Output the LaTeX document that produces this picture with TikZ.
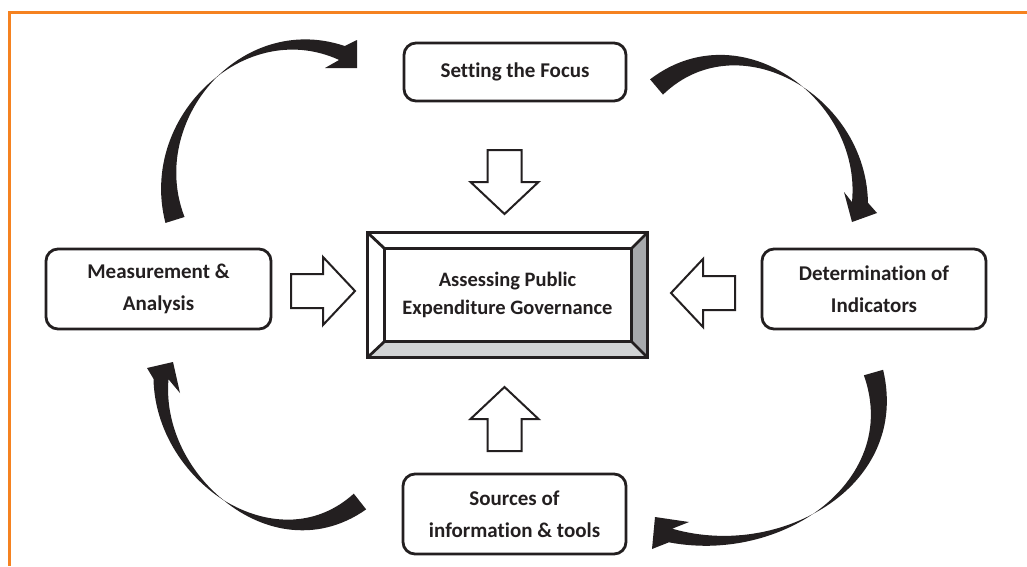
\documentclass[tikz,border=0pt]{standalone}
\usepackage{fontspec}
\setmainfont{Carlito}[Ligatures=NoCommon]
\usetikzlibrary{calc}
\definecolor{ink}{HTML}{231F20}
\definecolor{frameorange}{HTML}{F58220}
\definecolor{bevelgray}{HTML}{A7A9AC}
\definecolor{bevellight}{HTML}{D1D3D4}

\begin{document}
\begin{tikzpicture}[x=1pt,y=-1pt,
  stage/.style={draw=ink, line width=2.8pt, rounded corners=12pt, fill=white,
    text=ink, font=\bfseries\fontsize{21}{32}\selectfont, align=center, inner sep=0pt},
  hub/.style={text=ink, font=\bfseries\fontsize{20.5}{28}\selectfont, align=center,
    inner sep=0pt, minimum width=279pt, minimum height=124pt},
  hollow/.style={draw=ink, line width=2pt, fill=white, line join=miter},
  ribbon/.style={fill=ink},
  bevel/.style={draw=ink, line width=2.8pt, line join=miter},
  % twisted ribbon: centre line is a cubic Bezier, offset on each side by a
  % half-width that shrinks to zero at the twist and grows again to the head
  ribbonfns/.style={declare function={
    bz(\x,\ka,\kb,\kc,\kd)=(1-\x)*(1-\x)*(1-\x)*\ka+3*(1-\x)*(1-\x)*\x*\kb+3*(1-\x)*\x*\x*\kc+\x*\x*\x*\kd;
    dbz(\x,\ka,\kb,\kc,\kd)=3*(1-\x)*(1-\x)*(\kb-\ka)+6*(1-\x)*\x*(\kc-\kb)+3*\x*\x*(\kd-\kc);
    cx(\x)=bz(\x,\Ax,\Bx,\Cx,\Dx);
    cy(\x)=bz(\x,\Ay,\By,\Cy,\Dy);
    tx(\x)=dbz(\x,\Ax,\Bx,\Cx,\Dx);
    ty(\x)=dbz(\x,\Ay,\By,\Cy,\Dy);
    hw(\x)=(\x<\St)*\Wa*(\St-\x)/\St+(1-(\x<\St))*\Wb*(\x-\St)/(1-\St);
    ex(\x,\y)=cx(\x)-\y*hw(\x)*ty(\x)/veclen(tx(\x),ty(\x));
    ey(\x,\y)=cy(\x)+\y*hw(\x)*tx(\x)/veclen(tx(\x),ty(\x));
  }},
  side/.style={domain=0:1, samples=61, variable=\q},
  pics/blockarrow/.style={code={
    \draw[hollow] (-32,-17) -- (0,-17) -- (0,-34) -- (32,0) -- (0,34) -- (0,17) -- (-32,17) -- cycle;}}
]
\useasboundingbox (0,0) rectangle (1027,566);
\fill[white] (0,0) rectangle (1027,566);

% frame on the top and left edges
\draw[frameorange, line width=3pt, line join=miter] (9.5,566) -- (9.5,12.5) -- (1027,12.5);

% the four stages of the cycle
\node[stage, minimum width=222pt, minimum height=58pt] (focus) at (515,72) {Setting the Focus};
\node[stage, minimum width=225pt, minimum height=80pt] (measure) at (158.5,289) {Measurement \&\\Analysis};
\node[stage, minimum width=224pt, minimum height=80pt] (indicators) at (874,289) {Determination of\\Indicators};
\node[stage, minimum width=223pt, minimum height=80pt] (sources) at (514.5,514) {Sources of\\information \& tools};

% bevelled central box
\node[hub] (hub) at (507.5,295) {Assessing Public\\Expenditure Governance};
\coordinate (onw) at (hub.north west);
\coordinate (one) at (hub.north east);
\coordinate (ose) at (hub.south east);
\coordinate (osw) at (hub.south west);
\coordinate (inw) at ($(hub.north west)+(17,16)$);
\coordinate (ine) at ($(hub.north east)+(-16,16)$);
\coordinate (ise) at ($(hub.south east)+(-16,-16)$);
\coordinate (isw) at ($(hub.south west)+(17,-16)$);
\fill[bevelgray] (one) -- (ose) -- (ise) -- (ine) -- cycle;
\fill[bevellight] (osw) -- (ose) -- (ise) -- (isw) -- cycle;
\draw[bevel] (onw) rectangle (ose);
\draw[bevel] (inw) rectangle (ise);
\draw[bevel] (onw) -- (inw) (one) -- (ine) (ose) -- (ise) (osw) -- (isw);

% hollow arrows pointing into the central box
\pic at (323,291) {blockarrow};
\pic[rotate=180] at (703,293) {blockarrow};
\pic[rotate=-90] at (504.5,182) {blockarrow};
\pic[rotate=90] at (504.5,419) {blockarrow};

% twisted ribbon arrows of the cycle
% measurement -> focus
\def\Ax{175}\def\Ay{220}\def\Bx{143}\def\By{119}\def\Cx{243}\def\Cy{14}\def\Dx{342}\def\Dy{53}
\def\St{0.54}\def\Wa{10}\def\Wb{7.5}
\begin{scope}[ribbonfns]
\fill[ribbon] plot[side] ({ex(\q,1)},{ey(\q,1)}) -- (325,68) -- (357,68) -- (357,40)
  -- plot[side] ({ex(1-\q,-1)},{ey(1-\q,-1)}) -- cycle;
\end{scope}
% focus -> indicators
\def\Ax{656.5}\def\Ay{87}\def\Bx{740}\def\By{16}\def\Cx{864}\def\Cy{98}\def\Dx{860}\def\Dy{202.5}
\def\St{0.55}\def\Wa{10}\def\Wb{8}
\begin{scope}[ribbonfns]
\fill[ribbon] plot[side] ({ex(\q,1)},{ey(\q,1)}) -- (844,192) -- (852,222) -- (877,213)
  -- plot[side] ({ex(1-\q,-1)},{ey(1-\q,-1)}) -- cycle;
\end{scope}
% indicators -> sources
\def\Ax{873.5}\def\Ay{372.5}\def\Bx{905.7}\def\By{482.9}\def\Cx{782}\def\Cy{562}\def\Dx{670.5}\def\Dy{535.5}
\def\St{0.55}\def\Wa{10}\def\Wb{7}
\begin{scope}[ribbonfns]
\fill[ribbon] plot[side] ({ex(\q,1)},{ey(\q,1)}) -- (689,522) -- (655,517) -- (652,549)
  -- plot[side] ({ex(1-\q,-1)},{ey(1-\q,-1)}) -- cycle;
\end{scope}
% sources -> measurement
\def\Ax{360}\def\Ay{501.5}\def\Bx{276}\def\By{568.2}\def\Cx{158}\def\Cy{480}\def\Dx{161}\def\Dy{379}
\def\St{0.52}\def\Wa{10}\def\Wb{7.5}
\begin{scope}[ribbonfns]
\fill[ribbon] plot[side] ({ex(\q,1)},{ey(\q,1)}) -- (180,393) -- (173,362) -- (147,368)
  -- plot[side] ({ex(1-\q,-1)},{ey(1-\q,-1)}) -- cycle;
\end{scope}
\end{tikzpicture}
\end{document}
